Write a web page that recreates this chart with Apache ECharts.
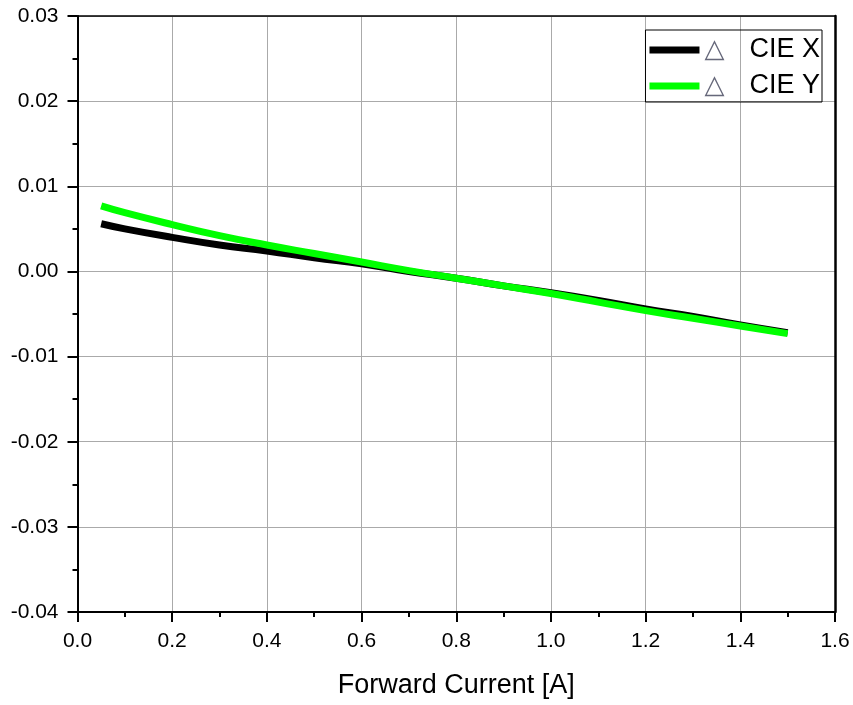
<!DOCTYPE html>
<html>
<head>
<meta charset="utf-8">
<script src="https://cdn.jsdelivr.net/npm/echarts@6/dist/echarts.min.js"></script>
<style>
  html, body { margin: 0; padding: 0; background: #fff; }
  #chart { width: 853px; height: 705px; }
</style>
</head>
<body>
<div id="chart"></div>
<script>
// forward current [A]
const current = [0.05, 0.1, 0.2, 0.3, 0.4, 0.5, 0.6, 0.7, 0.8, 0.9, 1.0, 1.1, 1.2, 1.3, 1.4, 1.5]
// delta CIE x / y
const cieX = [0.0056, 0.0050, 0.0040, 0.0031, 0.0024, 0.0016, 0.0009, 0.0000, -0.0008, -0.0017, -0.0025, -0.0034, -0.0044, -0.0053, -0.0063, -0.0072]
const cieY = [0.0077, 0.0069, 0.0055, 0.0042, 0.0031, 0.0021, 0.0011, 0.0001, -0.0008, -0.0017, -0.0026, -0.0036, -0.0046, -0.0055, -0.0064, -0.0073]
const seriesNames = ['CIE X', 'CIE Y']
const seriesColors = ['#000000', '#00ff00']

const font = 'Liberation Sans, Arial, sans-serif'
const chart = echarts.init(document.getElementById('chart'))

const pairs = arr => current.map((c, i) => [c, arr[i]])

chart.setOption({
  animation: false,
  grid: { left: 77.5, top: 16, right: 18, bottom: 93, containLabel: false },
  legend: {
    orient: 'vertical',
    right: 31,
    top: 30,
    padding: [6, 2, 2, 4],
    itemGap: 8,
    itemWidth: 50,
    itemHeight: 7,
    icon: 'rect',
    borderColor: '#000',
    borderWidth: 1,
    data: seriesNames,
    formatter: n => '{t|△}' + n,
    textStyle: {
      fontFamily: font,
      fontSize: 27,
      lineHeight: 28,
      color: '#000',
      rich: { t: { fontSize: 26, lineHeight: 28, width: 45, color: '#66687a', fontFamily: 'DejaVu Sans' } }
    }
  },
  xAxis: [{
    type: 'value',
    min: 0, max: 1.6, interval: 0.2,
    name: 'Forward Current [A]',
    nameLocation: 'middle',
    nameGap: 60,
    nameTextStyle: { fontFamily: font, fontSize: 27, color: '#000' },
    axisLine: { onZero: false, lineStyle: { color: '#000', width: 2 } },
    axisTick: { inside: false, length: 10, lineStyle: { color: '#000', width: 2 } },
    minorTick: { show: true, splitNumber: 2, length: 5, lineStyle: { color: '#000', width: 2 } },
    axisLabel: { fontFamily: font, fontSize: 21, color: '#000', margin: 19, formatter: v => v.toFixed(1) },
    splitLine: { show: true, lineStyle: { color: '#aaaaaa', width: 1 } }
  }, {
    type: 'value', position: 'top', min: 0, max: 1.6,
    axisLine: { show: true, onZero: false, lineStyle: { color: '#000', width: 1.5 } },
    axisTick: { show: false }, axisLabel: { show: false }, splitLine: { show: false }
  }],
  yAxis: [{
    type: 'value',
    min: -0.04, max: 0.03, interval: 0.01,
    axisLine: { onZero: false, lineStyle: { color: '#000', width: 2 } },
    axisTick: { inside: false, length: 10, lineStyle: { color: '#000', width: 2 } },
    minorTick: { show: true, splitNumber: 2, length: 5, lineStyle: { color: '#000', width: 2 } },
    axisLabel: { fontFamily: font, fontSize: 21, color: '#000', margin: 19, formatter: v => v.toFixed(2) },
    splitLine: { show: true, lineStyle: { color: '#aaaaaa', width: 1 } }
  }, {
    type: 'value', position: 'right', min: -0.04, max: 0.03,
    axisLine: { show: true, onZero: false, lineStyle: { color: '#000', width: 2.5 } },
    axisTick: { show: false }, axisLabel: { show: false }, splitLine: { show: false }
  }],
  series: [
    {
      name: seriesNames[0],
      type: 'line',
      smooth: true,
      showSymbol: false,
      color: seriesColors[0],
      lineStyle: { width: 7, cap: 'butt' },
      data: pairs(cieX)
    },
    {
      name: seriesNames[1],
      type: 'line',
      smooth: true,
      showSymbol: false,
      color: seriesColors[1],
      lineStyle: { width: 7, cap: 'butt' },
      data: pairs(cieY)
    }
  ]
})
</script>
</body>
</html>
